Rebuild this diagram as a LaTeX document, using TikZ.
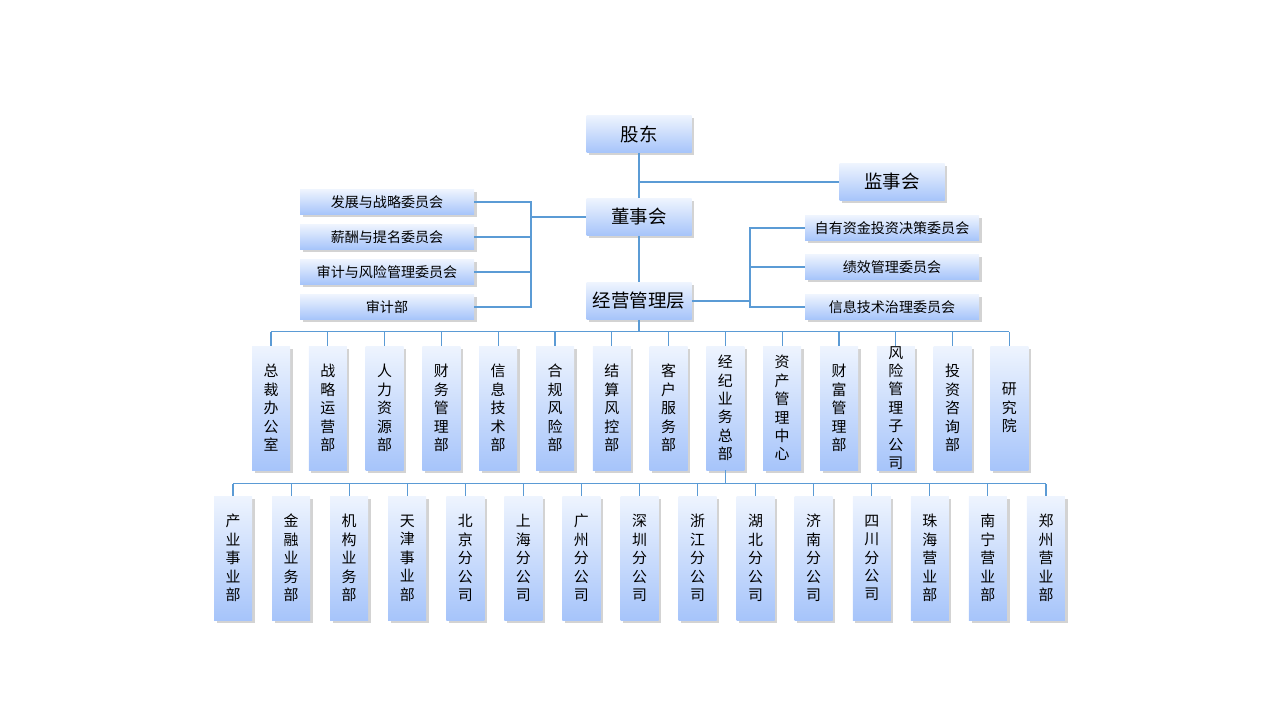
\documentclass[tikz,border=0pt]{standalone}
\usepackage{fontspec}
\setmainfont{Noto Sans CJK SC}
\XeTeXlinebreaklocale "zh"
\XeTeXlinebreakskip=0pt plus 1pt
\usetikzlibrary{shadows}
\definecolor{boxtop}{HTML}{EEF4FE}
\definecolor{boxbot}{HTML}{A6C4FA}
\definecolor{linkblue}{HTML}{5B9BD5}
\tikzset{
  orgbox/.style={draw=none, top color=boxtop, bottom color=boxbot,
    drop shadow={shadow xshift=1.5pt, shadow yshift=-1.5pt, opacity=0.35},
    inner sep=0pt, align=center},
  bigbox/.style={orgbox, minimum width=105*0.02cm, minimum height=37*0.02cm, font=\fontsize{10.5}{12}\selectfont},
  combox/.style={orgbox, minimum width=174*0.02cm, minimum height=25*0.02cm, font=\fontsize{8}{10}\selectfont},
  deptbox/.style={orgbox, minimum width=38*0.02cm, minimum height=124*0.02cm, text width=1em, font=\fontsize{8.5}{10.5}\selectfont},
  link/.style={draw=linkblue, line width=0.6pt}
}
\begin{document}
\begin{tikzpicture}[x=0.02cm, y=-0.02cm]
\useasboundingbox (0,0) rectangle (1280,720);

\node[bigbox] (gd) at (639,134) {股东};
\node[bigbox] (jsh) at (892,182) {监事会};
\node[bigbox] (dsh) at (639,217) {董事会};
\node[bigbox] (jy) at (639,301) {经营管理层};

% committees under the board
\node[combox] (c1) at (387,202) {发展与战略委员会};
\node[combox] (c2) at (387,237) {薪酬与提名委员会};
\node[combox] (c3) at (387,272) {审计与风险管理委员会};
\node[combox] (c4) at (387,307) {审计部};
\coordinate (cl) at (531,217);
\foreach \i in {1,...,4}
{
\draw[link] (c\i.east) -- (cl |- c\i.east) -- (cl);
}
\draw[link] (cl) -- (dsh.west);

% committees under management
\node[combox] (m1) at (892,228) {自有资金投资决策委员会};
\node[combox] (m2) at (892,267) {绩效管理委员会};
\node[combox] (m3) at (892,307) {信息技术治理委员会};
\coordinate (ml) at (750,301);
\foreach \i in {1,...,3}
{
\draw[link] (m\i.west) -- (ml |- m\i.west) -- (ml);
}
\draw[link] (jy.east) -- (ml);

\draw[link] (gd) -- (dsh);
\draw[link] (dsh) -- (jy);
\coordinate (js) at (639,182);
\draw[link] (js) -- (jsh.west);

% first row of departments
\foreach \t [count=\i] in {总裁办公室,战略运营部,人力资源部,财务管理部,信息技术部,合规风险部,结算风控部,客户服务部,经纪业务总部,资产管理中心,财富管理部,风险管理子公司,投资咨询部,研究院}
{
\node[deptbox] (a\i) at ({271+56.8*(\i-1)},408) {\t};
\draw[link] (a\i.north) -- ++(0,-14) coordinate (at\i);
}
\draw[link] (at1) -- (at14);
\draw[link] (jy.south) -- (jy.south |- at1);

% second row of branches
\foreach \t [count=\i] in {产业事业部,金融业务部,机构业务部,天津事业部,北京分公司,上海分公司,广州分公司,深圳分公司,浙江分公司,湖北分公司,济南分公司,四川分公司,珠海营业部,南宁营业部,郑州营业部}
{
\node[deptbox] (b\i) at ({233+58.07*(\i-1)},558) {\t};
\draw[link] (b\i.north) -- ++(0,-12) coordinate (bt\i);
}
\draw[link] (bt1) -- (bt15);
\draw[link] (a9.south) -- (a9.south |- bt1);
\end{tikzpicture}
\end{document}
